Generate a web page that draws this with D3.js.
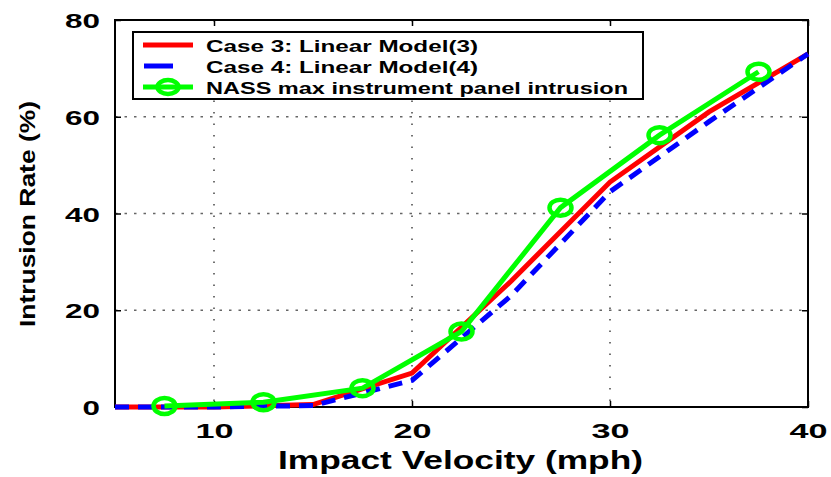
<!DOCTYPE html>
<html><head><meta charset="utf-8">
<script src="https://cdn.jsdelivr.net/npm/d3@7"></script>
<style>
html,body{margin:0;padding:0;background:#fff;}
text{font-family:"Liberation Sans",Arial,Helvetica,sans-serif;font-weight:bold;}
</style></head>
<body>
<svg id="chart" width="831" height="477"></svg>
<script>
const modelX = [5, 10, 15, 20, 25, 30, 35, 40];
const case3 = [0, 0, 0.5, 7, 26, 46.5, 61, 73];
const case4 = [0, 0, 0.3, 5.5, 23, 44.5, 59, 73];
const nassX = [7.5, 12.5, 17.5, 22.5, 27.5, 32.5, 37.5];
const nassY = [0.2, 1.0, 3.9, 15.6, 41.2, 56.2, 69.3];
const xTicks = [10, 20, 30, 40];
const yTicks = [0, 20, 40, 60, 80];
const xGrid = [10, 20, 30];
const yGrid = [20, 40, 60];
const legendLabels = ["Case 3: Linear Model(3)", "Case 4: Linear Model(4)", "NASS max instrument panel intrusion"];

const svg = d3.select("#chart");
const L = 115, R = 808, T = 20, B = 407;
const x = d3.scaleLinear().domain([5, 40]).range([L, R]);
const y = d3.scaleLinear().domain([0, 80]).range([B, T]);

// grid
svg.append("g").selectAll("line").data(xGrid).join("line")
  .attr("x1", d => x(d)).attr("x2", d => x(d)).attr("y1", T).attr("y2", B)
  .attr("stroke", "#444").attr("stroke-width", 1.5).attr("stroke-dasharray", "1.5,10");
svg.append("g").selectAll("line").data(yGrid).join("line")
  .attr("x1", L).attr("x2", R).attr("y1", d => y(d)).attr("y2", d => y(d))
  .attr("stroke", "#666").attr("stroke-width", 1.5).attr("stroke-dasharray", "2.5,7");

// axes
const xAxis = svg.append("g").attr("transform", `translate(0,${B})`)
  .call(d3.axisBottom(x).tickValues(xTicks).tickSize(-6).tickSizeOuter(0).tickPadding(16).tickFormat(d3.format("d")));
const yAxis = svg.append("g").attr("transform", `translate(${L},0)`)
  .call(d3.axisLeft(y).tickValues(yTicks).tickSize(-6).tickSizeOuter(0).tickPadding(15).tickFormat(d3.format("d")));
svg.append("g").attr("transform", `translate(0,${T})`)
  .call(d3.axisTop(x).tickValues(xTicks).tickSize(-6).tickSizeOuter(0).tickFormat(""));
svg.append("g").attr("transform", `translate(${R},0)`)
  .call(d3.axisRight(y).tickValues(yTicks).tickSize(-6).tickSizeOuter(0).tickFormat(""));
svg.selectAll(".domain").remove();
svg.selectAll(".tick line").attr("stroke", "#000").attr("stroke-width", 1.5);
xAxis.selectAll("text").attr("font-size", 21).attr("fill", "#000")
  .attr("textLength", d => String(d).length * 19).attr("lengthAdjust", "spacingAndGlyphs");
yAxis.selectAll("text").attr("font-size", 21).attr("fill", "#000").attr("dy", "0.36em")
  .attr("textLength", d => String(d).length * 17.5).attr("lengthAdjust", "spacingAndGlyphs");

// box
svg.append("rect").attr("x", L).attr("y", T).attr("width", R - L).attr("height", B - T)
  .attr("fill", "none").attr("stroke", "#000").attr("stroke-width", 2);

// lines
const line = d3.line().x(d => x(d[0])).y(d => y(d[1]));
svg.append("path").datum(modelX.map((v, i) => [v, case3[i]]))
  .attr("d", line).attr("fill", "none").attr("stroke", "#ff0000").attr("stroke-width", 5);
svg.append("path").datum(modelX.map((v, i) => [v, case4[i]]))
  .attr("d", line).attr("fill", "none").attr("stroke", "#0000ff").attr("stroke-width", 5)
  .attr("stroke-dasharray", "14,9");
const nass = nassX.map((v, i) => [v, nassY[i]]);
svg.append("path").datum(nass)
  .attr("d", line).attr("fill", "none").attr("stroke", "#00ff00").attr("stroke-width", 5);
svg.append("g").selectAll("ellipse").data(nass).join("ellipse")
  .attr("cx", d => x(d[0])).attr("cy", d => y(d[1])).attr("rx", 11).attr("ry", 8)
  .attr("fill", "none").attr("stroke", "#00ff00").attr("stroke-width", 4.5);

// axis titles
svg.append("text").attr("x", (278 + 643) / 2).attr("y", 469).attr("text-anchor", "middle")
  .attr("font-size", 26).attr("textLength", 365).attr("lengthAdjust", "spacingAndGlyphs")
  .text("Impact Velocity (mph)");
svg.append("text").attr("transform", "translate(35,214) rotate(-90)").attr("text-anchor", "middle")
  .attr("font-size", 22).attr("textLength", 226).attr("lengthAdjust", "spacingAndGlyphs")
  .text("Intrusion Rate (%)");

// legend
const lg = svg.append("g");
lg.append("rect").attr("x", 133).attr("y", 32).attr("width", 510).attr("height", 67)
  .attr("fill", "#fff").attr("stroke", "#000").attr("stroke-width", 2);
const rowsY = [45, 66, 87];
const textLens = [272, 272, 422];
lg.append("line").attr("x1", 143).attr("x2", 193).attr("y1", rowsY[0]).attr("y2", rowsY[0])
  .attr("stroke", "#ff0000").attr("stroke-width", 5);
lg.append("line").attr("x1", 144).attr("x2", 173).attr("y1", rowsY[1]).attr("y2", rowsY[1])
  .attr("stroke", "#0000ff").attr("stroke-width", 5);
lg.append("line").attr("x1", 143).attr("x2", 193).attr("y1", rowsY[2]).attr("y2", rowsY[2])
  .attr("stroke", "#00ff00").attr("stroke-width", 5);
lg.append("ellipse").attr("cx", 168).attr("cy", rowsY[2]).attr("rx", 10.5).attr("ry", 7)
  .attr("fill", "none").attr("stroke", "#00ff00").attr("stroke-width", 4.5);
lg.selectAll("text.leg").data(legendLabels).join("text").attr("class", "leg")
  .attr("x", 206).attr("y", (d, i) => rowsY[i] + 7).attr("font-size", 17)
  .attr("textLength", (d, i) => textLens[i]).attr("lengthAdjust", "spacingAndGlyphs")
  .text(d => d);
</script>
</body></html>
